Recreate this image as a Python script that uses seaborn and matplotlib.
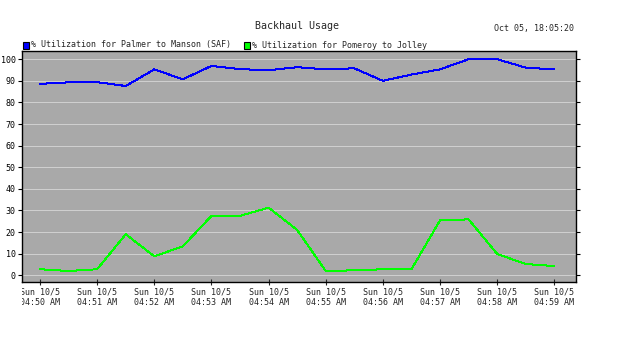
import matplotlib
matplotlib.use("Agg")
import matplotlib.pyplot as plt
from matplotlib.patches import Rectangle
from matplotlib.transforms import Bbox, TransformedBbox
import seaborn as sns
import pandas as pd
import numpy as np

# ---- data ----
minutes = [0, 0.5, 1, 1.5, 2, 2.5, 3, 3.5, 4, 4.5, 5, 5.5, 6, 6.5, 7, 7.5, 8, 8.5, 9]
palmer_manson = [88.6, 89.3, 89.4, 87.6, 95.3, 90.7, 96.9, 95.4, 94.9, 96.3,
                 95.3, 95.8, 90.0, 92.9, 95.3, 100.0, 100.0, 96.1, 95.3]
pomeroy_jolley = [2.8, 2.0, 2.8, 19.0, 8.8, 13.4, 27.5, 27.5, 31.3, 21.0,
                  2.0, 2.3, 2.8, 2.8, 25.4, 25.9, 9.9, 5.2, 4.3]
series_names = ["% Utilization for Palmer to Manson (SAF)",
                "% Utilization for Pomeroy to Jolley"]
series_colors = ["#0000ff", "#00ff00"]
tick_minutes = [0, 1, 2, 3, 4, 5, 6, 7, 8, 9]
tick_labels = ["Sun 10/5\n04:%02d AM" % (50 + m) for m in tick_minutes]
y_ticks = [0, 10, 20, 30, 40, 50, 60, 70, 80, 90, 100]
title = "Backhaul Usage"
stamp = "Oct 05, 18:05:20"

df = pd.concat([
    pd.DataFrame({"minute": minutes, "value": palmer_manson, "series": series_names[0]}),
    pd.DataFrame({"minute": minutes, "value": pomeroy_jolley, "series": series_names[1]}),
])

sns.set_style("white")
plt.rcParams["font.family"] = ["DejaVu Sans Mono"]

fig = plt.figure(figsize=(6.26, 3.43), dpi=100)
ax = fig.add_axes([22 / 626, 1 - 282 / 343, (576 - 22) / 626, (282 - 51) / 343])
ax.set_facecolor("#a9a9a9")

for yv in y_ticks:
    ax.axhline(yv, color="#cfcfcf", lw=0.72, zorder=0.5, antialiased=False)

sns.lineplot(data=df, x="minute", y="value", hue="series",
             palette=dict(zip(series_names, series_colors)),
             lw=0.72, ax=ax, legend=False, antialiased=False)

ax.set_xlim(-0.315, 9.38)
ax.set_ylim(-3.1, 103.8)
ax.set_xticks(tick_minutes)
ax.set_xticklabels(tick_labels, fontsize=6, linespacing=1.15)
ax.set_yticks(y_ticks)
ax.set_yticklabels([str(v) for v in y_ticks], fontsize=6)
ax.tick_params(axis="y", which="both", left=True, right=True, direction="out",
               length=3, width=0.8, pad=1.5, colors="black")
ax.tick_params(axis="x", bottom=True, direction="inout", length=4, width=0.8, pad=2)
ax.set_xlabel("")
ax.set_ylabel("")
for s in ax.spines.values():
    s.set_color("black")
    s.set_linewidth(1.0)

# clip first x label at the left edge of the plot, as in the reference
clip = TransformedBbox(Bbox([[22 / 626, 0], [1, 1]]), fig.transFigure)
for lbl in ax.get_xticklabels():
    lbl.set_clip_box(clip)
    lbl.set_clip_on(True)

fig.text(297 / 626, 1 - 26 / 343, title, ha="center", va="center", fontsize=7.2)
fig.text(574 / 626, 1 - 29 / 343, stamp, ha="right", va="center", fontsize=6)

# manual legend
leg_y = 1 - 45 / 343
for x0, name, col in [(23, series_names[0], series_colors[0]), (244, series_names[1], series_colors[1])]:
    fig.patches.append(Rectangle((x0 / 626, 1 - 48.5 / 343), 6 / 626, 6 / 343,
                                 transform=fig.transFigure, facecolor=col,
                                 edgecolor="black", lw=0.8))
    fig.text((x0 + 8) / 626, leg_y, name, ha="left", va="center", fontsize=6)

fig.savefig("out.png", dpi=100, facecolor="white")
